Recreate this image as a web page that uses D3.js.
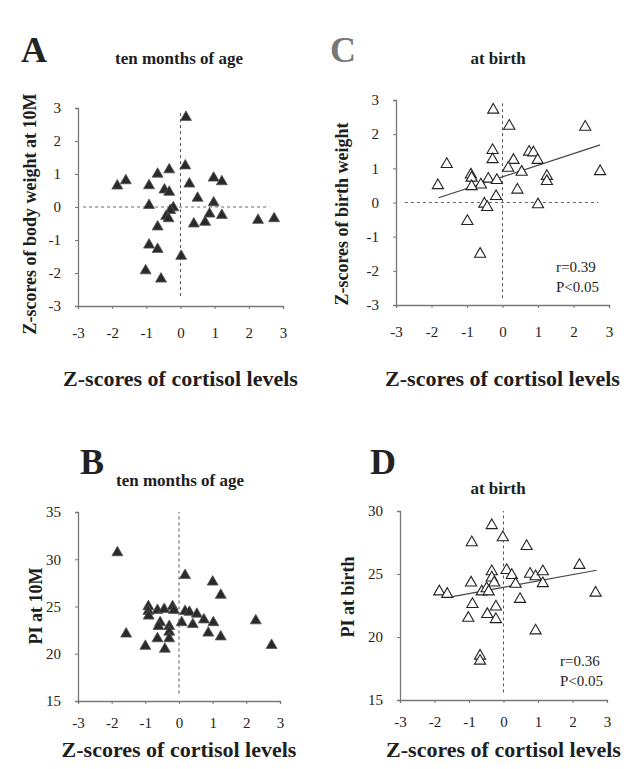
<!DOCTYPE html>
<html>
<head>
<meta charset="utf-8">
<script src="https://cdn.jsdelivr.net/npm/d3@7"></script>
<style>
body { margin: 0; background: #fff; }
svg text { font-family: "Liberation Serif", "Times New Roman", serif; fill: #1e1e1e; }
</style>
</head>
<body>
<div id="fig"></div>
<script>
// panel A: z-score body weight at 10M vs z-score cortisol
var aX = [0.16, 0.14, -0.33, -0.67, -1.6, -1.85, -0.92, 0.26, 0.97, 1.21, -0.47, -0.33, 0.5, 0.97, -0.92,
          -0.21, -0.3, -0.42, -0.35, 0.85, 1.21, 0.72, 0.39, 2.27, 2.74, -0.67, -0.92, -0.67, 0.02, -1.02, -0.57];
var aY = [2.72, 1.25, 1.13, 1.0, 0.8, 0.64, 0.65, 0.7, 0.88, 0.77, 0.52, 0.45, 0.27, 0.13, 0.05,
          -0.02, -0.1, -0.28, -0.35, -0.21, -0.25, -0.46, -0.51, -0.4, -0.35, -0.6, -1.15, -1.28, -1.49, -1.93, -2.18];

// panel C: z-score birth weight vs z-score cortisol
var cX = [-0.26, 0.19, 2.33, -0.28, -0.28, -1.57, 0.75, 0.87, 0.99, 0.31, 0.16, 0.54, 2.75, -0.89, -0.87,
          1.25, 1.25, -1.82, -0.4, -0.16, -0.61, -0.87, 0.42, -0.18, -0.51, -0.43, 1.0, -0.99, -0.63];
var cY = [2.71, 2.24, 2.21, 1.53, 1.26, 1.12, 1.48, 1.46, 1.24, 1.24, 1.01, 0.89, 0.91, 0.81, 0.72,
          0.77, 0.62, 0.5, 0.69, 0.65, 0.52, 0.47, 0.37, 0.18, -0.04, -0.14, -0.06, -0.55, -1.51];

// panel B: PI at 10M vs z-score cortisol
var bX = [-1.83, 0.18, 1.0, 1.24, 2.28, -0.91, -0.91, -0.9, -0.64, -0.44, -0.19, -0.15, 0.18, 0.31, 0.53, 0.74,
          1.02, 0.08, 0.41, -0.56, -0.61, -0.29, -0.29, -1.57, 0.87, 1.24, -0.64, -0.29, 2.75, -1.0, -0.42];
var bY = [30.7, 28.3, 27.6, 26.2, 23.5, 25.0, 24.5, 24.0, 24.6, 24.7, 25.0, 24.6, 24.5, 24.4, 24.2, 23.6,
          23.3, 23.3, 23.1, 23.3, 22.9, 22.9, 22.3, 22.1, 22.2, 21.8, 21.6, 21.6, 20.9, 20.8, 20.5];

// panel D: PI at birth vs z-score cortisol
var dX = [-0.34, -0.02, -0.92, 0.67, 2.2, -0.34, 0.09, 0.24, 0.77, 0.93, 1.14, 1.14, -0.34, -0.27, 0.35, -0.94,
          -1.86, -1.63, -0.63, -0.49, -0.43, 2.67, 0.48, -0.9, -0.22, -0.47, -1.02, -0.22, 0.93, -0.68, -0.68];
var dY = [28.86, 27.9, 27.5, 27.2, 25.7, 25.2, 25.3, 24.9, 25.0, 24.8, 25.2, 24.25, 24.7, 24.3, 24.2, 24.3,
          23.6, 23.4, 23.6, 23.85, 23.6, 23.5, 23.0, 22.6, 22.4, 21.8, 21.5, 21.4, 20.5, 18.5, 18.1];

var zTicks = [-3, -2, -1, 0, 1, 2, 3];
var piTicksB = [15, 20, 25, 30, 35];
var piTicksD = [15, 20, 25, 30];

// regression lines
var fitC = {slope: 0.34, intercept: 0.75, from: -1.8, to: 2.75};
var fitD = {slope: 0.5, intercept: 23.95, from: -1.6, to: 2.7};

var svg = d3.select("#fig").append("svg")
    .attr("width", 627).attr("height", 769);

var panels = [
  {letter: "A", letterX: 21, letterY: 62, letterFill: "#222",
   title: "ten months of age", titleX: 179, titleY: 64,
   x0: 78, x1: 283, y0: 306, y1: 108, ydom: [-3, 3], yticks: zTicks,
   xs: aX, ys: aY, filled: true, hline: [-2.85, 2.6], vline: [-2.7, 2.9],
   ylabel: "Z-scores of body weight at 10M", ylabelX: 36, ylabelY: 214,
   xlabelY: 386, tickPad: 18},
  {letter: "C", letterX: 330, letterY: 62, letterFill: "#777",
   title: "at birth", titleX: 498, titleY: 64,
   x0: 396, x1: 609, y0: 305, y1: 100, ydom: [-3, 3], yticks: zTicks,
   xs: cX, ys: cY, filled: false, hline: [-2.75, 2.7], vline: [-2.8, 2.9],
   fit: fitC, stat: ["r=0.39", "P<0.05"], statX: 556, statY: 272,
   ylabel: "Z-scores of birth weight", ylabelX: 348, ylabelY: 214,
   xlabelY: 386, tickPad: 18},
  {letter: "B", letterX: 80, letterY: 474, letterFill: "#222",
   title: "ten months of age", titleX: 180, titleY: 486,
   x0: 78, x1: 280, y0: 701, y1: 512, ydom: [15, 35], yticks: piTicksB,
   xs: bX, ys: bY, filled: true, vline: [15.8, 35],
   ylabel: "PI at 10M", ylabelX: 42, ylabelY: 606,
   xlabelY: 757, tickPad: 13},
  {letter: "D", letterX: 370, letterY: 474, letterFill: "#222",
   title: "at birth", titleX: 498, titleY: 494,
   x0: 400, x1: 607, y0: 700, y1: 511, ydom: [15, 30], yticks: piTicksD,
   xs: dX, ys: dY, filled: false, vline: [15.6, 30],
   fit: fitD, stat: ["r=0.36", "P<0.05"], statX: 560, statY: 666,
   ylabel: "PI at birth", ylabelX: 354, ylabelY: 597,
   xlabelY: 757, tickPad: 13}
];

panels.forEach(function(p) {
    var x = d3.scaleLinear().domain([-3, 3]).range([p.x0, p.x1]);
    var y = d3.scaleLinear().domain(p.ydom).range([p.y0, p.y1]);
    var g = svg.append("g");

    g.append("text").attr("x", p.letterX).attr("y", p.letterY)
        .attr("font-size", 36).attr("font-weight", "bold")
        .style("fill", p.letterFill).text(p.letter);
    g.append("text").attr("x", p.titleX).attr("y", p.titleY)
        .attr("text-anchor", "middle").attr("font-size", 17).attr("font-weight", "bold")
        .text(p.title);

    // axes
    var xa = g.append("g").attr("transform", "translate(0," + p.y0 + ")")
        .call(d3.axisBottom(x).tickValues(zTicks).tickSize(3).tickPadding(p.tickPad)
              .tickFormat(function(d) { return String(d); }));
    var ya = g.append("g").attr("transform", "translate(" + p.x0 + ",0)")
        .call(d3.axisLeft(y).tickValues(p.yticks).tickSize(3).tickPadding(14)
              .tickFormat(function(d) { return String(d); }));
    [xa, ya].forEach(function(a) {
        a.select(".domain").attr("stroke", "#777").attr("stroke-width", 1.3);
        a.selectAll(".tick line").attr("stroke", "#777");
        a.selectAll(".tick text").attr("font-size", 15)
            .style("font-family", "'Liberation Serif', serif").style("fill", "#222");
    });

    // reference dashed lines
    if (p.hline) {
        g.append("line").attr("x1", x(p.hline[0])).attr("x2", x(p.hline[1]))
            .attr("y1", y(0)).attr("y2", y(0))
            .attr("stroke", "#666").attr("stroke-dasharray", "3,3");
    }
    g.append("line").attr("x1", x(0)).attr("x2", x(0))
        .attr("y1", y(p.vline[0])).attr("y2", y(p.vline[1]))
        .attr("stroke", "#555").attr("stroke-dasharray", "3,3");

    if (p.fit) {
        g.append("line")
            .attr("x1", x(p.fit.from)).attr("y1", y(p.fit.intercept + p.fit.slope * p.fit.from))
            .attr("x2", x(p.fit.to)).attr("y2", y(p.fit.intercept + p.fit.slope * p.fit.to))
            .attr("stroke", "#444").attr("stroke-width", 1.2);
    }

    var tri = d3.symbol().type(d3.symbolTriangle).size(p.filled ? 52 : 54);
    g.selectAll("path.pt").data(p.xs).enter().append("path")
        .attr("class", "pt")
        .attr("d", tri)
        .attr("transform", function(d, i) { return "translate(" + x(d) + "," + y(p.ys[i]) + ")"; })
        .attr("fill", p.filled ? "#2a2a2a" : "#fff")
        .attr("stroke", p.filled ? "#555" : "#222")
        .attr("stroke-width", p.filled ? 0.8 : 1.1);

    if (p.stat) {
        p.stat.forEach(function(s, i) {
            g.append("text").attr("x", p.statX).attr("y", p.statY + i * 20)
                .attr("font-size", 15).text(s);
        });
    }

    g.append("text")
        .attr("transform", "translate(" + p.ylabelX + "," + p.ylabelY + ") rotate(-90)")
        .attr("text-anchor", "middle").attr("font-size", 18).attr("font-weight", "bold")
        .text(p.ylabel);
    g.append("text").attr("x", (p.x0 + p.x1) / 2).attr("y", p.xlabelY)
        .attr("text-anchor", "middle").attr("font-size", 22).attr("font-weight", "bold")
        .text("Z-scores of cortisol levels");
});
</script>
</body>
</html>
